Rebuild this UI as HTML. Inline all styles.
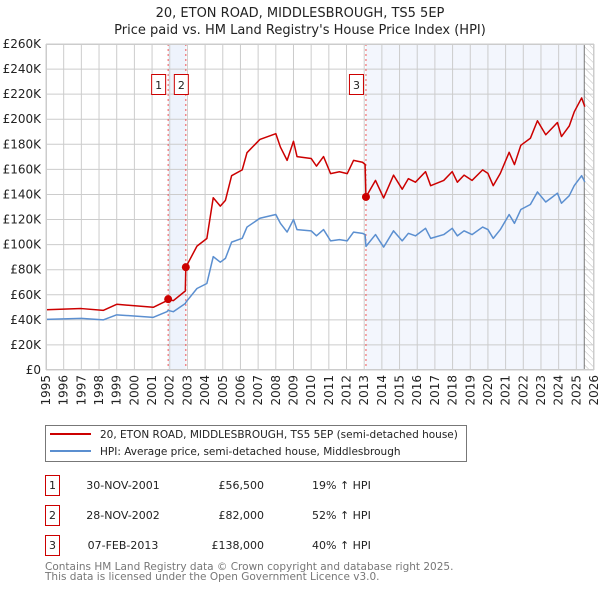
<!DOCTYPE html>
<html><head><meta charset="utf-8"><style>
body{margin:0;background:#fff}
svg{display:block;font-family:"DejaVu Sans","Liberation Sans",sans-serif}
</style></head><body>
<svg id="chart" width="600" height="590" viewBox="0 0 600 590">
<defs>
<pattern id="hatch" width="5" height="5" patternUnits="userSpaceOnUse" patternTransform="rotate(-45)"><line x1="0" y1="0" x2="0" y2="5" stroke="#bbb" stroke-width="1"/></pattern>
</defs>
<text x="300" y="17" text-anchor="middle" font-size="13" fill="#222">20, ETON ROAD, MIDDLESBROUGH, TS5 5EP</text>
<text x="300" y="34" text-anchor="middle" font-size="13" fill="#222">Price paid vs. HM Land Registry's House Price Index (HPI)</text>
<g id="plot"></g>
<g>
<rect x="45.5" y="425.5" width="421" height="36" fill="#fff" stroke="#777"/>
<line x1="50" y1="434" x2="91" y2="434" stroke="#cc0000" stroke-width="2"/>
<text x="100" y="438" font-size="10.5" fill="#222">20, ETON ROAD, MIDDLESBROUGH, TS5 5EP (semi-detached house)</text>
<line x1="50" y1="451" x2="91" y2="451" stroke="#5b8fd0" stroke-width="2"/>
<text x="100" y="455" font-size="10.5" fill="#222">HPI: Average price, semi-detached house, Middlesbrough</text>
</g>
<g font-size="11" fill="#222">
<g>
<rect x="45.5" y="475.5" width="14" height="20" fill="none" stroke="#cc0000"/>
<text x="52.5" y="489" text-anchor="middle">1</text>
<text x="123" y="489" text-anchor="middle">30-NOV-2001</text>
<text x="264" y="489" text-anchor="end">£56,500</text>
<text x="312" y="489">19% ↑ HPI</text>
</g>
<g>
<rect x="45.5" y="505.5" width="14" height="20" fill="none" stroke="#cc0000"/>
<text x="52.5" y="519" text-anchor="middle">2</text>
<text x="123" y="519" text-anchor="middle">28-NOV-2002</text>
<text x="264" y="519" text-anchor="end">£82,000</text>
<text x="312" y="519">52% ↑ HPI</text>
</g>
<g>
<rect x="45.5" y="535.5" width="14" height="20" fill="none" stroke="#cc0000"/>
<text x="52.5" y="549" text-anchor="middle">3</text>
<text x="123" y="549" text-anchor="middle">07-FEB-2013</text>
<text x="264" y="549" text-anchor="end">£138,000</text>
<text x="312" y="549">40% ↑ HPI</text>
</g>
</g>
<text x="45" y="570" font-size="10.5" fill="#777">Contains HM Land Registry data © Crown copyright and database right 2025.</text>
<text x="45" y="580" font-size="10.5" fill="#777">This data is licensed under the Open Government Licence v3.0.</text>
</svg>
<script>
const hpiYears=[1995,1997,1998.25,1999,2001.07,2001.84,2001.91,2002.2,2002.88,2002.91,2003.54,2004.1,2004.46,2004.86,2005.15,2005.5,2006.1,2006.37,2007.1,2008.0,2008.26,2008.64,2009.0,2009.2,2010.0,2010.3,2010.7,2011.1,2011.6,2012.04,2012.4,2012.9,2013.05,2013.1,2013.64,2014.1,2014.66,2015.15,2015.5,2015.9,2016.47,2016.76,2017.5,2017.98,2018.27,2018.65,2019.1,2019.7,2020.0,2020.3,2020.7,2021.2,2021.5,2021.86,2022.4,2022.8,2023.27,2023.65,2023.93,2024.16,2024.6,2024.88,2025.3,2025.48];
const hpiValues=[40.4,41.2,40,44,42,46.5,47.5,46.5,53,54,65,69,90.4,86,89,102,105,114,121,124,117,110,120,112,111,107,112,103,104,103,110,109,108,98.6,108,98,111,103,109,107,113,105,108,113,107,111,108,114,112,105,112,124,117,128,132,142,134,138,141,133,139,147,155,150];
const priceValues=[48.1,49,47.6,52.4,50,55.3,56.5,55.3,63,82,98.8,104.9,137.4,130.7,135.3,155,159.6,173.3,183.9,188.5,177.8,167.2,182.4,170.2,168.7,162.6,170.2,156.6,158.1,156.6,167.2,165.7,164,138,151.2,137.2,155.4,144.2,152.6,149.8,158.2,147,151.2,158.2,149.8,155.4,151.2,159.6,156.8,147,156.8,173.6,163.8,179.2,184.8,198.8,187.6,193.2,197.4,186.2,194.6,205.8,217,210];
const saleYears=[2001.91,2002.91,2013.1];
const salePrices=[56.5,82,138];
const saleLabels=['1','2','3'];
const yTicks=[0,20,40,60,80,100,120,140,160,180,200,220,240,260];
const xTicks=[1995,1996,1997,1998,1999,2000,2001,2002,2003,2004,2005,2006,2007,2008,2009,2010,2011,2012,2013,2014,2015,2016,2017,2018,2019,2020,2021,2022,2023,2024,2025,2026];
const dataEnd=2025.45;

const NS='http://www.w3.org/2000/svg';
const L=46,R=594,T=44,B=370;
const X=y=>L+(y-1995)/(2026-1995)*(R-L);
const Y=v=>B-v/260*(B-T);
const g=document.getElementById('plot');
function mk(tag,attrs){const e=document.createElementNS(NS,tag);for(const k in attrs)e.setAttribute(k,attrs[k]);g.appendChild(e);return e;}

let e;
e=mk('rect',{x:X(saleYears[0]),y:T,width:X(saleYears[1])-X(saleYears[0]),height:B-T,fill:'#eef3fc'});


e=mk('rect',{x:X(saleYears[2]),y:T,width:X(dataEnd)-X(saleYears[2]),height:B-T,fill:'#f3f6fd'});


e=mk('rect',{x:X(dataEnd),y:T,width:R-X(dataEnd),height:B-T,fill:'url(#hatch)'});



xTicks.forEach(t=>{
  e=mk('line',{x1:X(t),x2:X(t),y1:T,y2:B,stroke:'#cccccc','stroke-width':1});
  
  
  const tx=X(t)+4, ty=B+5;
  e=mk('text',{x:tx,y:ty,'text-anchor':'end','font-size':12,fill:'#222',transform:'rotate(-90 '+tx+' '+ty+')'});
  e.textContent=t;
  
  
});
yTicks.forEach(t=>{
  e=mk('line',{x1:L,x2:R,y1:Y(t),y2:Y(t),stroke:'#cccccc','stroke-width':1});
  
  
  e=mk('text',{x:L-5,y:Y(t)+4,'text-anchor':'end','font-size':12,fill:'#222'});
  e.textContent='£'+t+(t?'K':'');
  
  
});
e=mk('line',{x1:X(dataEnd),x2:X(dataEnd),y1:T,y2:B,stroke:'#777','stroke-width':1});



saleYears.forEach((s,i)=>{
  e=mk('line',{x1:X(s),x2:X(s),y1:T,y2:B,stroke:'#ee5555','stroke-width':1,'stroke-dasharray':'2,3'});
  
  
});

e=mk('polyline',{points:hpiYears.map((y,i)=>X(y)+','+Y(hpiValues[i])).join(' '),fill:'none',stroke:'#5b8fd0','stroke-width':1.5,'stroke-linejoin':'round'});


e=mk('polyline',{points:hpiYears.map((y,i)=>X(y)+','+Y(priceValues[i])).join(' '),fill:'none',stroke:'#cc0000','stroke-width':1.5,'stroke-linejoin':'round'});



saleYears.forEach((s,i)=>{
  e=mk('circle',{cx:X(s),cy:Y(salePrices[i]),r:4,fill:'#cc0000'});
  
  
});
saleYears.forEach((s,i)=>{
  const x0=(i===1)?X(s)-12:X(s)-17;
  e=mk('rect',{x:x0+0.5,y:74.5,width:14,height:20,fill:'#fff',stroke:'#cc0000'});
  
  
  e=mk('text',{x:x0+7.5,y:89,'text-anchor':'middle','font-size':11,fill:'#222'});
  e.textContent=saleLabels[i];
  
  
});
e=mk('rect',{x:L+0.5,y:T+0.5,width:R-L-1,height:B-T-1,fill:'none',stroke:'#cccccc'});


</script>
</body></html>
